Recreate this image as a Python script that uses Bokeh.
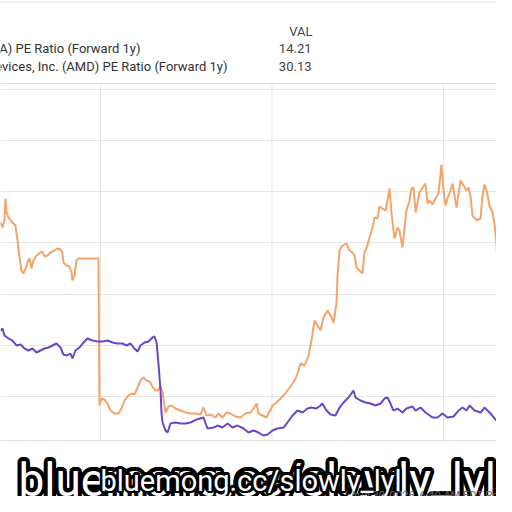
import math
from bokeh.plotting import figure
from bokeh.models import Range1d, FixedTicker, Span, Label
from bokeh.embed import file_html
from bokeh.resources import INLINE

# ---- data ----
series_names = ["NVIDIA Corp (NVDA) PE Ratio (Forward 1y)",
                "Advanced Micro Devices, Inc. (AMD) PE Ratio (Forward 1y)"]
val_header = "VAL"
series_vals = ["14.21", "30.13"]

orange_x = [2023.417, 2023.429, 2023.440, 2023.446, 2023.452, 2023.464, 2023.487, 2023.504, 2023.516, 2023.528,
            2023.539, 2023.551, 2023.563, 2023.574, 2023.586, 2023.598, 2023.609, 2023.627, 2023.650, 2023.662,
            2023.673, 2023.691, 2023.708, 2023.732, 2023.749, 2023.767, 2023.778, 2023.784, 2023.802, 2023.819,
            2023.831, 2023.837, 2023.848, 2023.860, 2023.872, 2023.988, 2023.994, 2024.006, 2024.023, 2024.041,
            2024.058, 2024.082, 2024.105, 2024.122, 2024.140, 2024.163, 2024.181, 2024.198, 2024.216, 2024.233,
            2024.251, 2024.268, 2024.286, 2024.303, 2024.321, 2024.332, 2024.350, 2024.362, 2024.379, 2024.397,
            2024.414, 2024.437, 2024.466, 2024.496, 2024.525, 2024.554, 2024.583, 2024.601, 2024.618, 2024.641,
            2024.671, 2024.688, 2024.711, 2024.735, 2024.758, 2024.787, 2024.816, 2024.845, 2024.875, 2024.892,
            2024.910, 2024.921, 2024.945, 2024.968, 2024.980, 2025.003, 2025.020, 2025.050, 2025.073, 2025.090,
            2025.120, 2025.137, 2025.149, 2025.166, 2025.190, 2025.213, 2025.230, 2025.248, 2025.265, 2025.283,
            2025.300, 2025.324, 2025.341, 2025.359, 2025.376, 2025.382, 2025.394, 2025.405, 2025.434, 2025.452,
            2025.469, 2025.481, 2025.493, 2025.510, 2025.528, 2025.539, 2025.551, 2025.569, 2025.586, 2025.598,
            2025.615, 2025.627, 2025.644, 2025.662, 2025.673, 2025.685, 2025.697, 2025.714, 2025.732, 2025.743,
            2025.761, 2025.773, 2025.784, 2025.802, 2025.813, 2025.825, 2025.837, 2025.848, 2025.860, 2025.878,
            2025.895, 2025.907, 2025.918, 2025.936, 2025.953, 2025.971, 2025.988, 2026.000, 2026.012, 2026.023,
            2026.041, 2026.053, 2026.064, 2026.076, 2026.088, 2026.099, 2026.117, 2026.134, 2026.146, 2026.157,
            2026.169, 2026.192, 2026.216, 2026.227, 2026.239, 2026.251, 2026.268, 2026.286, 2026.297, 2026.309,
            2026.315, 2026.327, 2026.344, 2026.356, 2026.367, 2026.379, 2026.391, 2026.408]
orange_y = [54.01, 53.03, 54.40, 58.70, 55.96, 54.98, 54.01, 53.42, 50.49, 47.17,
            44.63, 44.04, 45.02, 46.19, 46.97, 45.02, 46.58, 47.56, 48.14, 48.34,
            47.36, 47.56, 48.14, 48.53, 48.92, 48.73, 48.14, 46.19, 45.60, 45.41,
            44.23, 42.67, 43.65, 46.58, 46.97, 46.97, 18.24, 19.61, 19.41, 18.63,
            17.26, 16.68, 16.68, 17.65, 19.22, 20.20, 20.59, 20.39, 21.76, 23.13,
            23.71, 23.13, 22.93, 21.95, 21.17, 21.17, 21.95, 20.78, 16.87, 18.05,
            18.24, 17.65, 17.26, 16.87, 16.68, 16.68, 16.48, 17.85, 16.29, 16.48,
            15.90, 16.68, 15.90, 16.87, 16.68, 16.09, 15.90, 16.68, 16.87, 17.65,
            18.63, 16.68, 16.29, 15.90, 16.68, 18.24, 18.63, 19.61, 20.39, 21.17,
            22.54, 23.52, 24.49, 26.45, 26.06, 28.01, 30.94, 34.85, 33.88, 32.90,
            35.44, 36.81, 35.83, 34.46, 38.18, 43.65, 48.53, 49.32, 49.90, 48.53,
            48.14, 47.56, 45.21, 44.63, 44.04, 48.14, 48.92, 51.07, 53.03, 54.98,
            54.79, 57.13, 56.74, 56.35, 58.31, 60.65, 55.77, 50.88, 53.03, 52.44,
            49.12, 53.03, 56.35, 58.31, 60.65, 60.85, 55.96, 57.72, 59.87, 60.85,
            61.63, 57.72, 58.31, 57.52, 58.70, 59.67, 65.34, 60.26, 57.33, 58.70,
            60.26, 61.63, 59.28, 56.94, 59.67, 62.21, 61.24, 60.26, 60.85, 59.28,
            55.37, 54.40, 54.79, 59.28, 61.43, 60.26, 57.33, 55.96, 53.81, 49.90,
            45.99, 52.05, 52.83, 53.03, 56.94, 53.03, 53.42, 53.22]

purple_x = [2023.417, 2023.429, 2023.440, 2023.464, 2023.487, 2023.510, 2023.534, 2023.557, 2023.580, 2023.603,
            2023.627, 2023.650, 2023.673, 2023.697, 2023.720, 2023.743, 2023.767, 2023.784, 2023.802, 2023.825,
            2023.837, 2023.854, 2023.878, 2023.901, 2023.924, 2023.953, 2023.983, 2024.012, 2024.041, 2024.070,
            2024.099, 2024.128, 2024.152, 2024.175, 2024.198, 2024.216, 2024.233, 2024.257, 2024.280, 2024.303,
            2024.315, 2024.327, 2024.338, 2024.350, 2024.356, 2024.362, 2024.379, 2024.391, 2024.408, 2024.437,
            2024.466, 2024.496, 2024.525, 2024.560, 2024.601, 2024.624, 2024.659, 2024.682, 2024.711, 2024.741,
            2024.770, 2024.799, 2024.834, 2024.863, 2024.892, 2024.921, 2024.950, 2024.974, 2025.003, 2025.032,
            2025.067, 2025.090, 2025.120, 2025.149, 2025.178, 2025.207, 2025.230, 2025.259, 2025.283, 2025.294,
            2025.318, 2025.341, 2025.370, 2025.394, 2025.417, 2025.446, 2025.475, 2025.487, 2025.516, 2025.545,
            2025.574, 2025.603, 2025.633, 2025.656, 2025.673, 2025.691, 2025.708, 2025.732, 2025.761, 2025.784,
            2025.819, 2025.837, 2025.866, 2025.895, 2025.936, 2025.965, 2025.994, 2026.023, 2026.058, 2026.088,
            2026.111, 2026.134, 2026.152, 2026.181, 2026.216, 2026.239, 2026.274, 2026.309, 2026.332, 2026.362,
            2026.385, 2026.408]
purple_y = [32.90, 33.29, 31.92, 31.34, 30.94, 29.97, 30.16, 29.38, 28.99, 29.38,
            28.60, 28.99, 29.38, 29.58, 29.97, 30.36, 29.58, 28.21, 28.01, 28.40,
            27.43, 28.99, 29.58, 30.55, 31.34, 30.94, 30.75, 30.75, 30.94, 30.55,
            30.36, 30.36, 29.97, 30.36, 29.38, 28.79, 29.97, 30.55, 30.75, 31.53,
            31.73, 30.55, 26.45, 21.17, 16.68, 14.92, 13.36, 12.96, 14.72, 14.92,
            14.72, 14.72, 14.92, 15.50, 15.90, 13.75, 13.94, 14.33, 13.94, 14.72,
            13.94, 14.33, 13.75, 12.96, 13.36, 12.96, 12.38, 12.57, 13.36, 13.75,
            13.94, 14.92, 16.29, 17.26, 16.87, 17.65, 17.85, 17.65, 18.24, 18.63,
            17.26, 16.48, 16.29, 17.85, 18.83, 19.80, 21.17, 19.80, 19.22, 18.83,
            18.63, 18.24, 18.63, 19.61, 19.80, 18.63, 17.26, 17.65, 16.87, 17.65,
            18.05, 17.26, 17.85, 16.87, 15.90, 15.90, 16.68, 15.90, 16.09, 17.26,
            17.85, 17.26, 18.24, 17.26, 16.87, 17.85, 16.68, 15.31, 16.29, 17.26,
            18.83, 19.41]

x_grid_ticks = [2024, 2025, 2026]
y_grid_ticks = [20, 30, 40, 50, 60, 70, 80]
plot_top, plot_bottom = 81.17, 11.40
timestamp = "Aug 30, 2026, 6:40 AM EDT Powered by YCharts"
watermark = "bluemong.cc/slowly_lyl"

# ---- figure (frame = whole canvas) ----
W, H = 496, 496
p = figure(width=W, height=H, title=None,
           x_range=Range1d(2023.417, 2026.309), y_range=Range1d(0.46, 97.39),
           output_backend="svg", toolbar_location=None,
           min_border_left=0, min_border_right=0,
           min_border_top=0, min_border_bottom=0)
p.xaxis.visible = False
p.yaxis.visible = False
p.xgrid.visible = False
p.outline_line_color = None
p.background_fill_color = "white"
p.border_fill_color = "white"
p.ygrid.ticker = FixedTicker(ticks=y_grid_ticks)
p.ygrid.grid_line_color = "#e6e6e6"
p.ygrid.grid_line_width = 1

GRID = "#e6e6e6"
# vertical grid lines only inside the plot area
p.segment(x0=x_grid_ticks, y0=[plot_bottom] * len(x_grid_ticks),
          x1=x_grid_ticks, y1=[plot_top] * len(x_grid_ticks),
          line_color=GRID, line_width=1)
# plot area top/bottom borders and screenshot top border
for loc, col in ((plot_top, "#e0e0e0"), (plot_bottom, "#e0e0e0"), (97.1, "#e4e4e4")):
    p.add_layout(Span(location=loc, dimension="width", line_color=col, line_width=1))

p.line(orange_x, orange_y, line_color="#f4a46a", line_width=2)
p.line(purple_x, purple_y, line_color="#6a47c8", line_width=2)


def lab(text, x, ftop, size, color="#333333", align="left", font="Roboto", **kw):
    p.add_layout(Label(x=x, y=H - ftop, x_units="screen", y_units="screen", text=text,
                       text_font=font, text_font_size=size, text_color=color,
                       text_align=align, text_baseline="alphabetic", **kw))


lab(val_header, 312, 31.0, "13px", "#444444", "right")
lab(series_vals[0], 311, 48.0, "13px", "#444444", "right")
lab(series_vals[1], 311, 65.5, "13px", "#444444", "right")
lab(series_names[0], 140, 48.0, "13px", "#333333", "right")
lab(series_names[1], 227, 65.5, "13px", "#333333", "right")


# watermark: big outlined text, then smaller outlined text on top
def outlined(text, x, ftop, size, r, n):
    for k in range(n):
        a = 2 * math.pi * k / n
        lab(text, x, ftop, size, "black", "left", "Roboto",
            x_offset=r * math.cos(a), y_offset=r * math.sin(a))
    lab(text, x, ftop, size, "white", "left", "Roboto")


outlined(watermark, 18, 479, "46px", 4, 16)
outlined(watermark, 100, 480, "29px", 2.5, 12)

# footer timestamp, drawn last so it stays readable
lab(timestamp, 350, 494.5, "11px", "#666666", "left")

open("out.html", "w").write(file_html(p, INLINE))
